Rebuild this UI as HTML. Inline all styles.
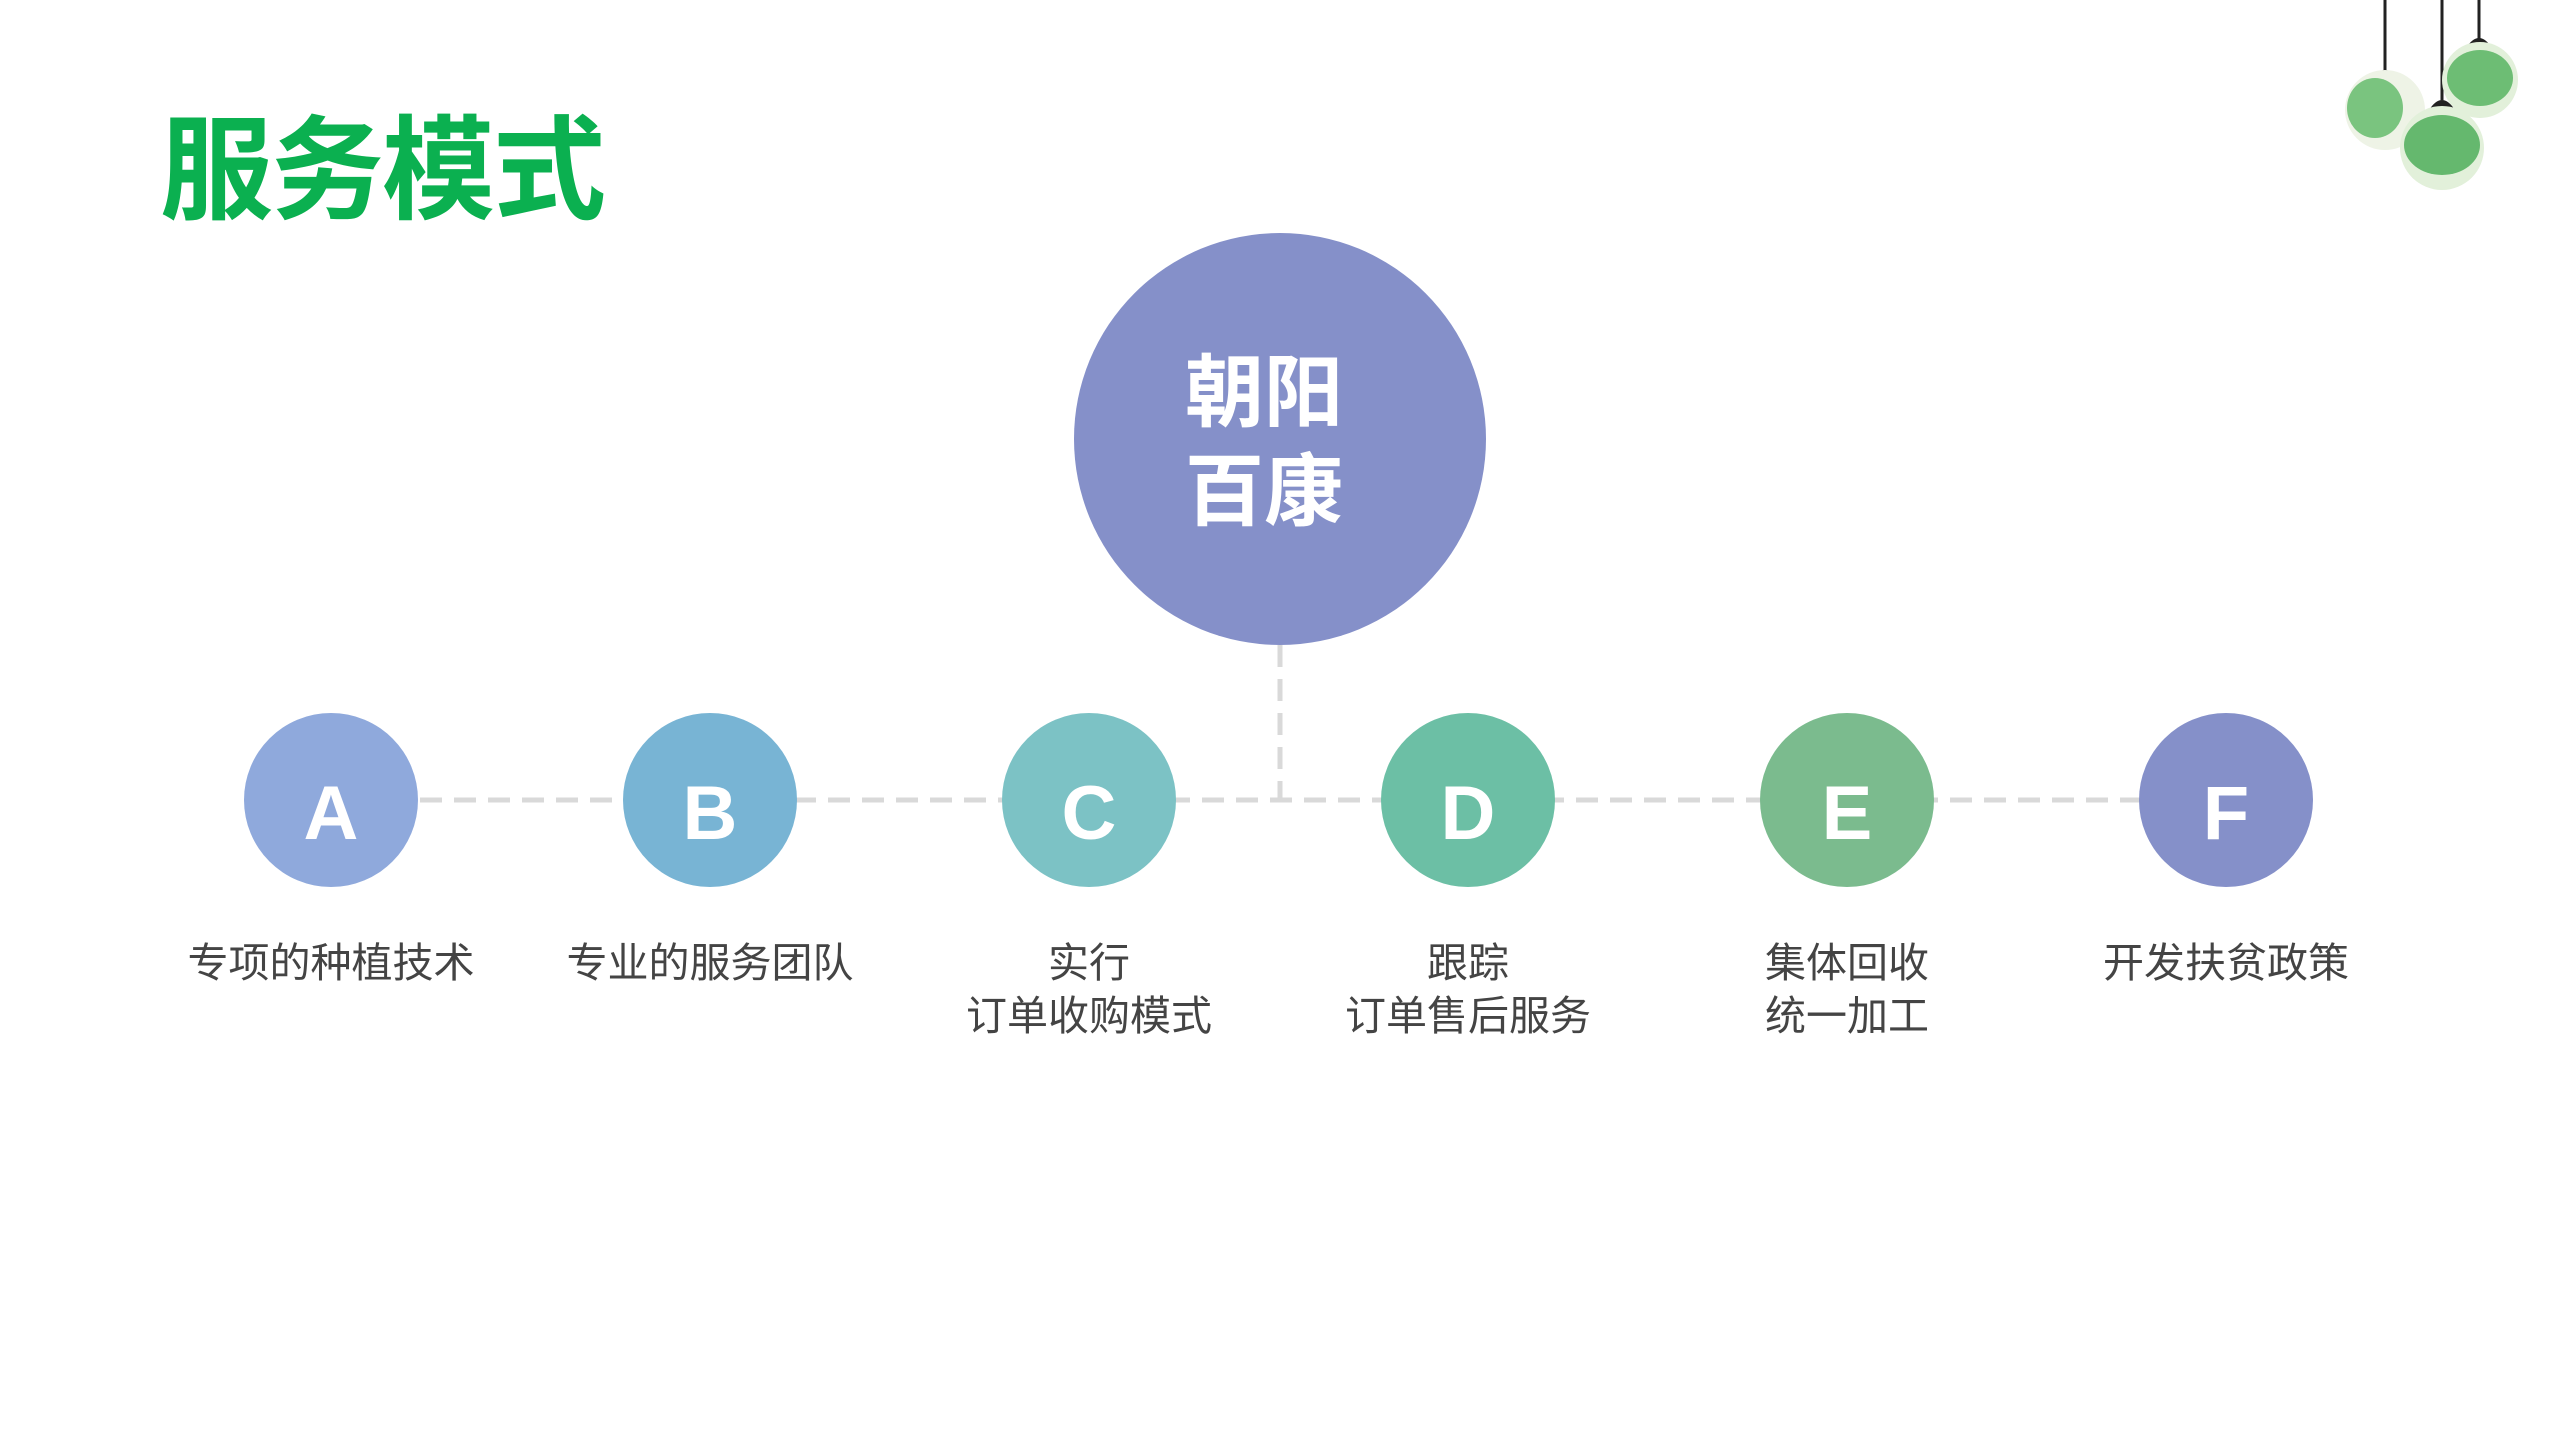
<!DOCTYPE html>
<html><head><meta charset="utf-8"><style>
body{margin:0;width:2560px;height:1440px;background:#fff;position:relative;overflow:hidden;font-family:"Liberation Sans","Noto Sans CJK SC",sans-serif}
.t{position:absolute;left:160px;top:104px;font-size:113px;font-weight:bold;color:#0bb050;line-height:134px;letter-spacing:-2px;white-space:nowrap}
.big{position:absolute;left:1074px;top:233px;width:412px;height:412px;border-radius:50%;background:#8590c9}
.bt{position:absolute;left:1185px;top:343px;width:170px;font-size:79px;font-weight:bold;color:#fff;line-height:99px;text-align:left;white-space:nowrap}
.c{position:absolute;top:713px;width:174px;height:174px;border-radius:50%;color:#fff;font-weight:bold;font-size:76px;text-align:center;line-height:174px;padding-top:14px;box-sizing:border-box;font-family:"Liberation Sans",sans-serif}
.l{position:absolute;top:937px;width:320px;font-size:41px;color:#444;text-align:center;line-height:53px;white-space:nowrap}
</style></head><body>
<div class="t">服务模式</div>
<svg style="position:absolute;left:0;top:0" width="2560" height="1440">
<line x1="420" y1="800" x2="2140" y2="800" stroke="#d9d9d9" stroke-width="5" stroke-dasharray="22,12"/>
<line x1="1280" y1="645" x2="1280" y2="800" stroke="#d9d9d9" stroke-width="5" stroke-dasharray="22,12"/>
<g>
<line x1="2385" y1="0" x2="2385" y2="70" stroke="#222" stroke-width="3"/>
<line x1="2442" y1="0" x2="2442" y2="100" stroke="#222" stroke-width="3"/>
<line x1="2479" y1="0" x2="2479" y2="40" stroke="#222" stroke-width="3"/>
<path d="M2372 80 q13 -20 26 0z" fill="#222"/><path d="M2429 110 q13 -20 26 0z" fill="#222"/><path d="M2466 48 q13 -20 26 0z" fill="#222"/>
<circle cx="2385" cy="110" r="40" fill="#eef3e6"/><ellipse cx="2375" cy="108" rx="28" ry="30" fill="#5cb865" opacity=".8"/>
<circle cx="2480" cy="80" r="38" fill="#e2f0da"/><ellipse cx="2480" cy="78" rx="33" ry="28" fill="#58b461" opacity=".85"/>
<circle cx="2442" cy="148" r="42" fill="#e2f0da"/><ellipse cx="2442" cy="145" rx="38" ry="30" fill="#4fae5a" opacity=".85"/>
</g>
</svg>
<div class="big"></div>
<div class="bt">朝阳<br>百康</div>
<div class="c" style="left:244px;background:#8fa9dc">A</div>
<div class="c" style="left:623px;background:#78b4d4">B</div>
<div class="c" style="left:1002px;background:#7cc2c5">C</div>
<div class="c" style="left:1381px;background:#6cbfa5">D</div>
<div class="c" style="left:1760px;background:#7bbb8e">E</div>
<div class="c" style="left:2139px;background:#8590c9">F</div>
<div class="l" style="left:171px">专项的种植技术</div>
<div class="l" style="left:550px">专业的服务团队</div>
<div class="l" style="left:929px">实行<br>订单收购模式</div>
<div class="l" style="left:1308px">跟踪<br>订单售后服务</div>
<div class="l" style="left:1687px">集体回收<br>统一加工</div>
<div class="l" style="left:2066px">开发扶贫政策</div>
</body></html>
